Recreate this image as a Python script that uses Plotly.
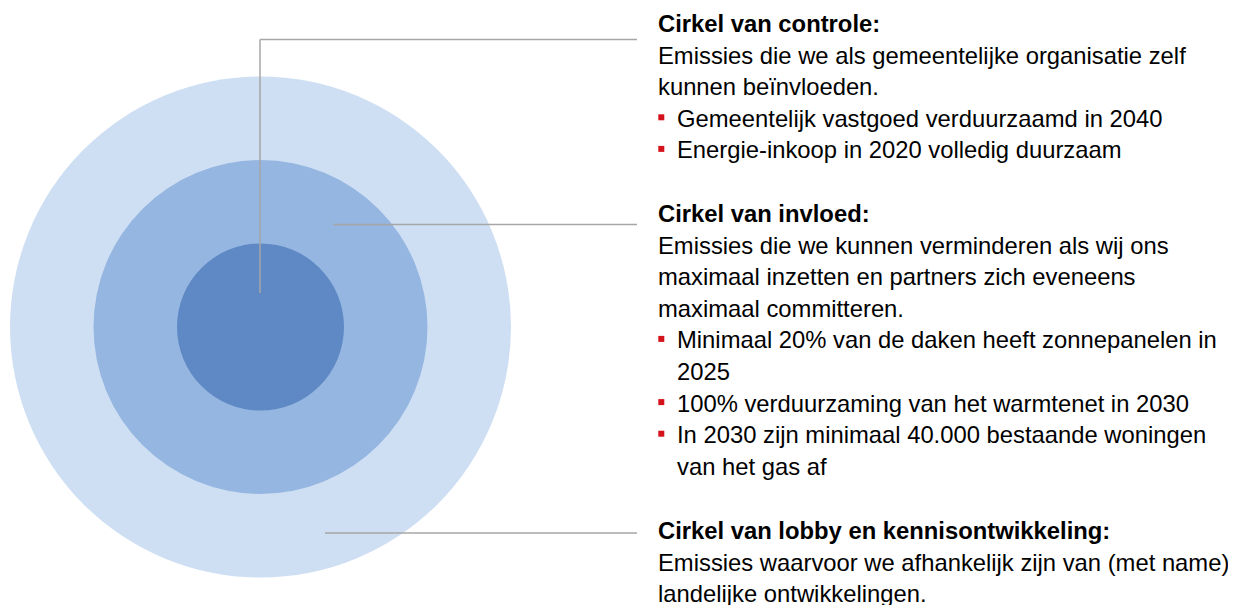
import plotly.graph_objects as go

# ---- data ----
ring_names = ["Cirkel van lobby en kennisontwikkeling", "Cirkel van invloed", "Cirkel van controle"]
ring_radii = [250.5, 167, 83.5]
ring_colors = ["#CFDFF3", "#95B6E0", "#5F89C5"]

titles = ["Cirkel van controle:", "Cirkel van invloed:", "Cirkel van lobby en kennisontwikkeling:"]
descriptions = [
    ["Emissies die we als gemeentelijke organisatie zelf", "kunnen beïnvloeden."],
    ["Emissies die we kunnen verminderen als wij ons", "maximaal inzetten en partners zich eveneens", "maximaal committeren."],
    ["Emissies waarvoor we afhankelijk zijn van (met name)", "landelijke ontwikkelingen."],
]
bullets = [
    [["Gemeentelijk vastgoed verduurzaamd in 2040"], ["Energie-inkoop in 2020 volledig duurzaam"]],
    [["Minimaal 20% van de daken heeft zonnepanelen in", "2025"],
     ["100% verduurzaming van het warmtenet in 2030"],
     ["In 2030 zijn minimaal 40.000 bestaande woningen", "van het gas af"]],
    [],
]

# ---- layout constants ----
W, H = 1236, 605
OFF = 8  # page body margin
cx, cy = 260.5, 327
block_start = [23.5, 213.5, 530.5]
line_h = 31.6
text_x = 656
bullet_text_x = 675
font = dict(family="Liberation Sans, Arial, sans-serif", size=23.8, color="#000000")

fig = go.Figure()
shapes = []
for r, c in zip(ring_radii, ring_colors):
    shapes.append(dict(type="circle", xref="x", yref="y", x0=cx - r, x1=cx + r, y0=cy - r, y1=cy + r,
                       fillcolor=c, line=dict(width=0), layer="below"))

grey = dict(color="#A6A6A6", width=1.5)
# leader lines
shapes.append(dict(type="line", xref="x", yref="y", x0=260, x1=260, y0=293, y1=39.5, line=grey))
shapes.append(dict(type="line", xref="x", yref="y", x0=260, x1=637, y0=39.5, y1=39.5, line=grey))
shapes.append(dict(type="line", xref="x", yref="y", x0=333, x1=637, y0=224.5, y1=224.5, line=grey))
shapes.append(dict(type="line", xref="x", yref="y", x0=325, x1=637, y0=533, y1=533, line=grey))

annotations = []
for bi, title in enumerate(titles):
    y = block_start[bi]
    annotations.append(dict(x=text_x, y=y, xref="x", yref="y", text="<b>" + title + "</b>",
                            showarrow=False, xanchor="left", yanchor="middle", font=font))
    y += line_h
    for d in descriptions[bi]:
        annotations.append(dict(x=text_x, y=y, xref="x", yref="y", text=d,
                                showarrow=False, xanchor="left", yanchor="middle", font=font))
        y += line_h
    for b in bullets[bi]:
        shapes.append(dict(type="rect", xref="x", yref="y", x0=658.3, x1=664.3, y0=y - 4, y1=y + 2,
                           fillcolor="#D3121B", line=dict(width=0)))
        for part in b:
            annotations.append(dict(x=bullet_text_x, y=y, xref="x", yref="y", text=part,
                                    showarrow=False, xanchor="left", yanchor="middle", font=font))
            y += line_h

fig.update_layout(
    width=W, height=H, margin=dict(l=0, r=0, t=0, b=0),
    paper_bgcolor="white", plot_bgcolor="white",
    xaxis=dict(range=[OFF, W + OFF], visible=False, fixedrange=True),
    yaxis=dict(range=[H + OFF, OFF], visible=False, fixedrange=True),
    shapes=shapes, annotations=annotations, showlegend=False,
)
fig.write_html("out.html")
